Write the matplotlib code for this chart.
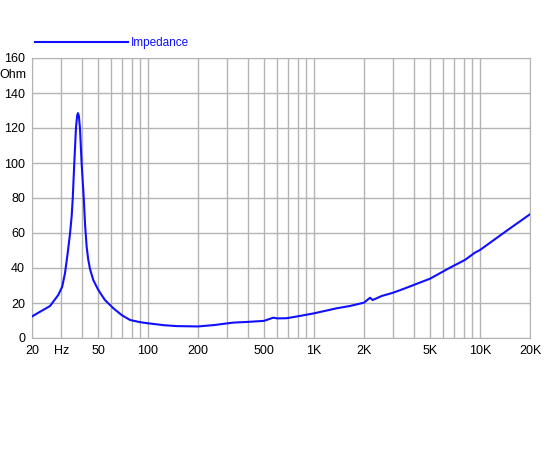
import numpy as np
import matplotlib
matplotlib.use('Agg')
import matplotlib.pyplot as plt
from matplotlib.ticker import FixedLocator, NullFormatter

plt.rcParams['font.family'] = ['Liberation Sans', 'DejaVu Sans']

# impedance curve
freq = [20, 22.35, 25.7, 28.8, 30.4, 31.6, 32.8, 33.9, 34.7, 35.2, 35.96, 36.8,
        37.4, 37.8, 38.3, 38.9, 39.8, 41.0, 41.8, 42.7, 43.6, 44.7, 46.8, 50.2, 55,
        61.8, 69.4, 77.9, 90, 100, 125, 149, 200, 250, 326, 400, 500, 568, 600,
        684, 800, 1000, 1372, 1648, 2000, 2174, 2255, 2556, 3001, 3447, 5000,
        6594, 8110, 9326, 10000, 14475, 20000]
impedance = [12.3, 15.0, 18.3, 24.6, 29.3, 37, 48.4, 59.8, 70, 80, 100, 120,
             127, 128.5, 127, 120, 100, 80, 64, 52, 45, 39.5, 33.1, 27.4, 21.7,
             17, 13.1, 10.3, 9.0, 8.4, 7.3, 6.8, 6.6, 7.4, 8.8, 9.2, 9.8, 11.6, 11.2,
             11.3, 12.4, 14.1, 17, 18.3, 20.2, 23.0, 21.7, 24, 25.9, 28, 33.9,
             40.2, 44.6, 48.8, 50.3, 61.3, 70.7]

x_ticks = [20, 30, 50, 100, 200, 500, 1000, 2000, 5000, 10000, 20000]
x_labels = ['20', 'Hz', '50', '100', '200', '500', '1K', '2K', '5K', '10K', '20K']
y_ticks = [0, 20, 40, 60, 80, 100, 120, 140, 160]

fig = plt.figure(figsize=(5.5, 4.5), dpi=100)
ax = fig.add_axes([32/550, 1 - 338/450, 498/550, 280/450])

grid_color = '#b4b4b4'
minor = [m * 10**e for e in range(1, 5) for m in range(1, 10)]
minor = [v for v in minor if 20 <= v <= 20000]
for v in minor:
    ax.axvline(v, color=grid_color, lw=1, zorder=1)
for v in y_ticks:
    ax.axhline(v, color=grid_color, lw=1, zorder=1)

ax.plot(freq, impedance, color='#1010ff', lw=1.5, zorder=3, label='Impedance')

ax.set_xscale('log')
ax.set_xlim(20, 20000)
ax.set_ylim(0, 160)
ax.xaxis.set_major_locator(FixedLocator(x_ticks))
ax.xaxis.set_minor_locator(FixedLocator([]))
ax.xaxis.set_minor_formatter(NullFormatter())
ax.set_xticks(x_ticks)
ax.set_xticklabels(x_labels)
ax.set_yticks(y_ticks)
ax.tick_params(length=0, labelsize=9, pad=5, colors='black')
for s in ax.spines.values():
    s.set_color(grid_color)

ax.text(-0.012, 150, 'Ohm', transform=ax.get_yaxis_transform(),
        ha='right', va='center', fontsize=9)

leg = ax.legend(loc='center left', bbox_to_anchor=(0.006, (338 - 43) / 280),
                frameon=False, handlelength=7.9, handletextpad=0.25,
                fontsize=8.5, borderaxespad=0, borderpad=0)
for t in leg.get_texts():
    t.set_color('#1010ff')

fig.savefig('out.png', dpi=100)
